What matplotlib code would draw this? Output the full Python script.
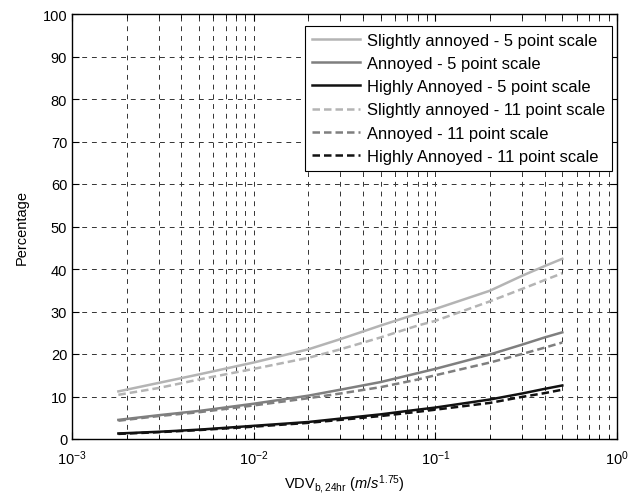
import matplotlib
matplotlib.use("Agg")
import matplotlib.pyplot as plt
from matplotlib import ticker

plt.rcParams['font.family'] = ['Liberation Sans', 'DejaVu Sans']
plt.rcParams['mathtext.fontset'] = 'custom'
plt.rcParams['mathtext.rm'] = 'Liberation Sans'
plt.rcParams['mathtext.it'] = 'Liberation Sans:italic'
plt.rcParams['mathtext.bf'] = 'Liberation Sans:bold'

# values
vdv = [1.8e-3, 3e-3, 5e-3, 1e-2, 2e-2, 3e-2, 5e-2, 8e-2, 1e-1, 2e-1, 3e-1, 4e-1, 5e-1]
slight_5 = [11.2, 13.2, 15.2, 18.0, 21.1, 23.5, 26.7, 29.5, 30.6, 34.9, 38.4, 40.7, 42.4]
annoyed_5 = [4.5, 5.6, 6.6, 8.3, 10.2, 11.6, 13.4, 15.5, 16.5, 19.9, 22.2, 23.9, 25.1]
highly_5 = [1.3, 1.7, 2.2, 3.1, 4.0, 4.8, 5.8, 6.9, 7.4, 9.3, 10.7, 11.8, 12.6]
slight_11 = [10.4, 12.0, 14.0, 16.5, 19.1, 21.1, 23.9, 26.7, 27.8, 32.4, 35.3, 37.4, 39.0]
annoyed_11 = [4.3, 5.4, 6.3, 7.9, 9.6, 10.7, 12.2, 14.0, 15.0, 18.0, 20.0, 21.5, 22.7]
highly_11 = [1.2, 1.6, 2.1, 2.9, 3.8, 4.5, 5.4, 6.4, 6.9, 8.5, 9.9, 10.8, 11.6]

labels = ["Slightly annoyed - 5 point scale", "Annoyed - 5 point scale",
          "Highly Annoyed - 5 point scale", "Slightly annoyed - 11 point scale",
          "Annoyed - 11 point scale", "Highly Annoyed - 11 point scale"]
series = [slight_5, annoyed_5, highly_5, slight_11, annoyed_11, highly_11]
colours = ["#b4b4b4", "#7f7f7f", "#111111"] * 2
styles = ["-"] * 3 + ["--"] * 3

fig = plt.figure(figsize=(6.3, 5.02), dpi=100)
ax = fig.add_axes((72/630, 1-440/502, 545/630, 425/502))

for ys, lab, c, ls in zip(series, labels, colours, styles):
    line, = ax.plot(vdv, ys, color=c, linestyle=ls, linewidth=1.8, label=lab)
    if ls == "--":
        line.set_dashes((3, 1.6))

ax.set_xscale("log")
ax.set_xlim(1e-3, 1)
ax.set_ylim(0, 100)
ax.set_yticks(range(0, 101, 10))
ax.xaxis.set_minor_locator(ticker.LogLocator(base=10, subs=range(2, 10)))
ax.xaxis.set_minor_formatter(ticker.NullFormatter())

ax.grid(True, which="major", axis="both", color="#333333", linestyle=(0, (5, 5)), linewidth=0.7)
ax.grid(True, which="minor", axis="x", color="#333333", linestyle=(0, (5, 5)), linewidth=0.7)

ax.tick_params(which="both", direction="in", top=True, right=True, labelsize=10.5, colors="black")
ax.tick_params(which="major", length=5)
ax.tick_params(which="minor", length=3)
ax.tick_params(axis="x", which="major", pad=7)
for s in ax.spines.values():
    s.set_linewidth(1.0)

ax.set_ylabel("Percentage", fontsize=10.5, labelpad=10)
ax.set_xlabel(r"VDV$_{\mathrm{b,24hr}}$ ($\mathit{m/s}^{\mathit{1.75}}$)", fontsize=10.5, labelpad=4)

leg = ax.legend(loc="upper right", bbox_to_anchor=(0.991, 0.9725), fontsize=11.9,
                fancybox=False, framealpha=1, edgecolor="black", borderaxespad=0,
                labelspacing=0.5, handlelength=2.9, handletextpad=0.45, borderpad=0.42)
leg.get_frame().set_linewidth(0.8)

fig.savefig("out.png", dpi=100)
